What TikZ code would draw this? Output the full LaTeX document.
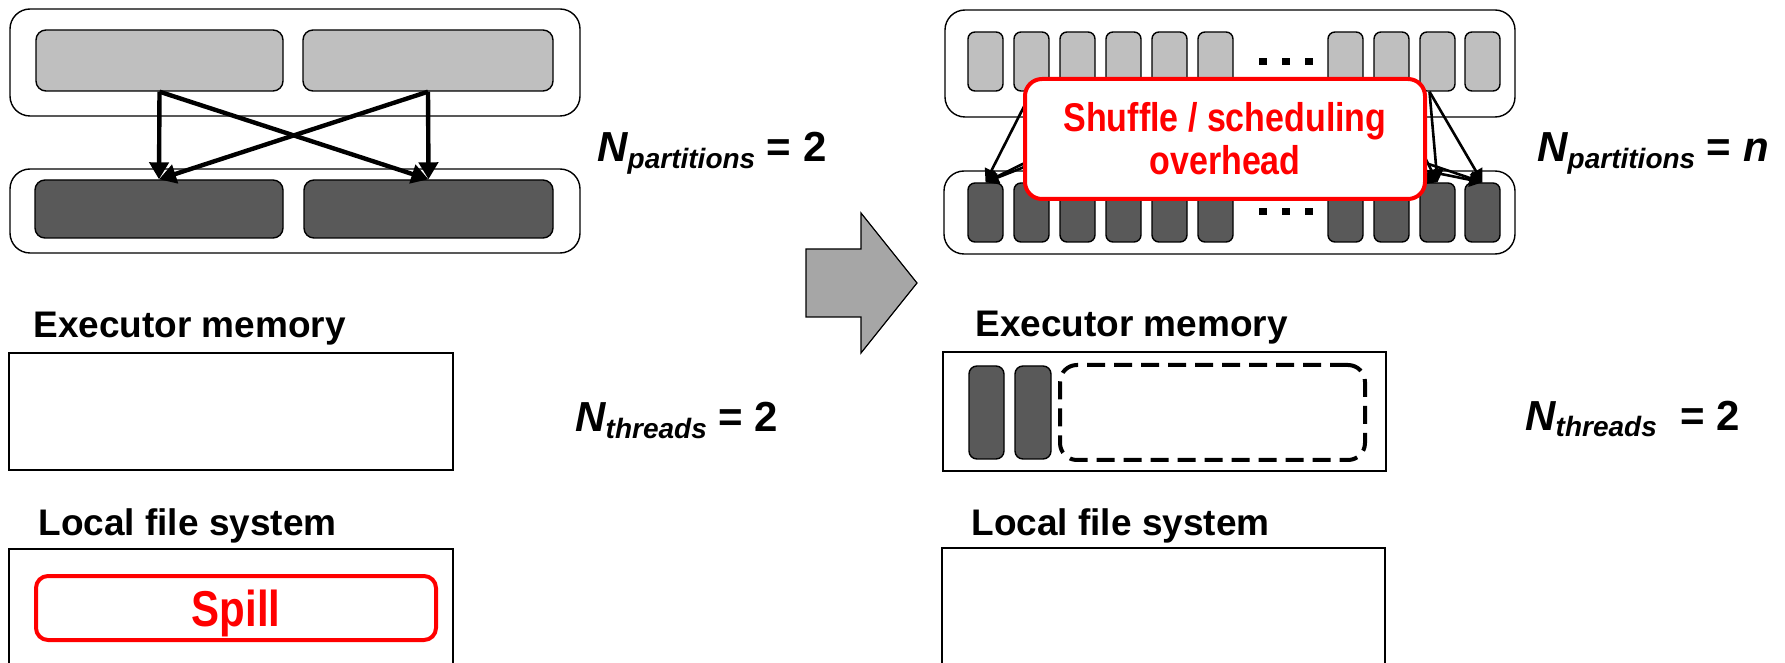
\documentclass[tikz,border=0pt]{standalone}
\usepackage{fontspec}
\setmainfont{Liberation Sans}
\usetikzlibrary{arrows.meta,fit}

\definecolor{partlight}{HTML}{BFBFBF}
\definecolor{partdark}{HTML}{595959}
\definecolor{blockgray}{HTML}{A6A6A6}
\definecolor{alertred}{HTML}{FF0000}

% lowered italic subscript for the N labels
\newcommand\partsub[1]{\raisebox{-3.3pt}{\fontsize{14}{16}\selectfont\itshape #1}}
% slightly tall lettering for the red notes
\newcommand\tallred[1]{\scalebox{1}[1.18]{#1}}

\begin{document}
\begin{tikzpicture}[x=0.5pt,y=-0.5pt,
  outerbox/.style={draw=black, line width=0.7pt, rounded corners=10pt, inner sep=0pt},
  lightbox/.style={draw=black, line width=0.7pt, fill=partlight, rounded corners=4.5pt, inner sep=0pt},
  darkbox/.style={draw=black, line width=0.7pt, fill=partdark, rounded corners=4.5pt, inner sep=0pt},
  slotlight/.style={lightbox, rounded corners=3.5pt},
  slotdark/.style={darkbox, rounded corners=3.5pt},
  plainbox/.style={draw=black, line width=0.8pt, inner sep=0pt},
  freebox/.style={draw=black, line width=2pt, dash pattern=on 9pt off 4.5pt, rounded corners=8.5pt, inner sep=0pt},
  heading/.style={anchor=base west, inner sep=0pt, font=\bfseries\fontsize{18.5}{22}\selectfont},
  param/.style={anchor=base west, inner sep=0pt, font=\bfseries\fontsize{21}{25}\selectfont},
  bigarrow/.style={line width=2.2pt, -{Triangle[length=8.5pt,width=9.5pt]}},
  thinarrow/.style={line width=1.3pt, -{Triangle[length=6.5pt,width=7pt]}},
  alertbox/.style={draw=alertred, line width=2pt, fill=white, text=alertred, inner sep=0pt,
    font=\bfseries},
]
\useasboundingbox (0,0) rectangle (1785,663);
\clip (0,0) rectangle (1785,663);

% ---------- left: two partitions ----------
\node[outerbox, fit={(10,9) (580,116)}] (lin) {};
\node[outerbox, fit={(10,169) (580,253)}] (lout) {};
\node[lightbox, rounded corners=5pt, fit={(36,30) (283,91)}] (tl1) {};
\node[lightbox, rounded corners=5pt, fit={(303,30) (553,91)}] (tl2) {};
\node[darkbox, rounded corners=5pt, fit={(35,180) (283,238)}] (bl1) {};
\node[darkbox, rounded corners=5pt, fit={(304,180) (553,238)}] (bl2) {};

\draw[bigarrow] (tl1.south) -- (bl1.north);
\draw[bigarrow] (tl2.south) -- (bl2.north);
\draw[bigarrow] (tl1.south) -- (bl2.north);
\draw[bigarrow] (tl2.south) -- (bl1.north);

\node[param] (npl) at (597,162) {{\itshape N}\partsub{partitions} = 2};

\node[heading] (meml) at (33,338) {Executor memory};
\node[plainbox, fit={(9,353) (453,470)}] (memboxl) {};
\node[param] (ntl) at (575,432) {{\itshape N}\partsub{threads} = 2};

\node[heading] (lfsl) at (38,535) {Local file system};
\node[plainbox, fit={(9,549) (453,690)}] (lfsboxl) {};
\node[alertbox, rounded corners=6pt, minimum width=200pt, minimum height=32pt,
  text depth=0pt, font=\bfseries\fontsize{21}{25}\selectfont] (spill) at (236,608) {\scalebox{1}[1.2]{Spill}};

% ---------- transition arrow ----------
\filldraw[fill=blockgray, draw=black, line width=0.6pt]
  (806,249) -- (861,249) -- (861,213) -- (917,283) -- (861,353) -- (861,317) -- (806,317) -- cycle;

% ---------- right: n partitions ----------
\node[outerbox, fit={(945,10) (1515,117)}] (rin) {};
\node[outerbox, fit={(944,171) (1515,254)}] (rout) {};
\foreach \x [count=\i] in {968,1014,1060,1106,1152,1198,1328,1374,1420,1465} {
  \node[slotlight, fit={(\x,32) (\x+35,91)}] (rt\i) {};
  \node[slotdark, fit={(\x,183) (\x+35,242)}] (rb\i) {};
}
\foreach \x in {1259,1282,1305} {
  \fill (\x,58) rectangle ++(8,7);
  \fill (\x,208) rectangle ++(8,7);
}

\foreach \s/\t in {rt2/rb1, rt5/rb1, rt6/rb1, rt8/rb9, rt6/rb9, rt6/rb10, rt2/rb10}
  \draw[thinarrow] (\s.south) -- (\t.north);
\draw[thinarrow] ([xshift=-4pt]rt9.south) -- (rb9.north);
\draw[thinarrow] ([xshift=-4pt]rt9.south) -- (rb10.north);

\node[alertbox, rounded corners=8.5pt, minimum width=200pt, minimum height=60pt, align=center,
  font=\bfseries\fontsize{17}{21.5}\selectfont] (ovh) at (1225,139)
  {\tallred{Shuffle / scheduling}\\\tallred{overhead}};

\node[param] (npr) at (1537,162) {{\itshape N}\partsub{partitions} = {\itshape n}};

\node[heading] (memr) at (975,337) {Executor memory};
\node[plainbox, fit={(943,352) (1386,471)}] (memboxr) {};
\node[darkbox, rounded corners=4pt, fit={(969,366) (1004,459)}] (th1) {};
\node[darkbox, rounded corners=4pt, fit={(1015,366) (1051,459)}] (th2) {};
\node[freebox, fit={(1060,365) (1365,460)}] (idle) {};
\node[param] (ntr) at (1525,430) {{\itshape N}\partsub{threads}\hspace{6pt} = 2};

\node[heading] (lfsr) at (971,535) {Local file system};
\node[plainbox, fit={(942,548) (1385,690)}] (lfsboxr) {};
\end{tikzpicture}
\end{document}
